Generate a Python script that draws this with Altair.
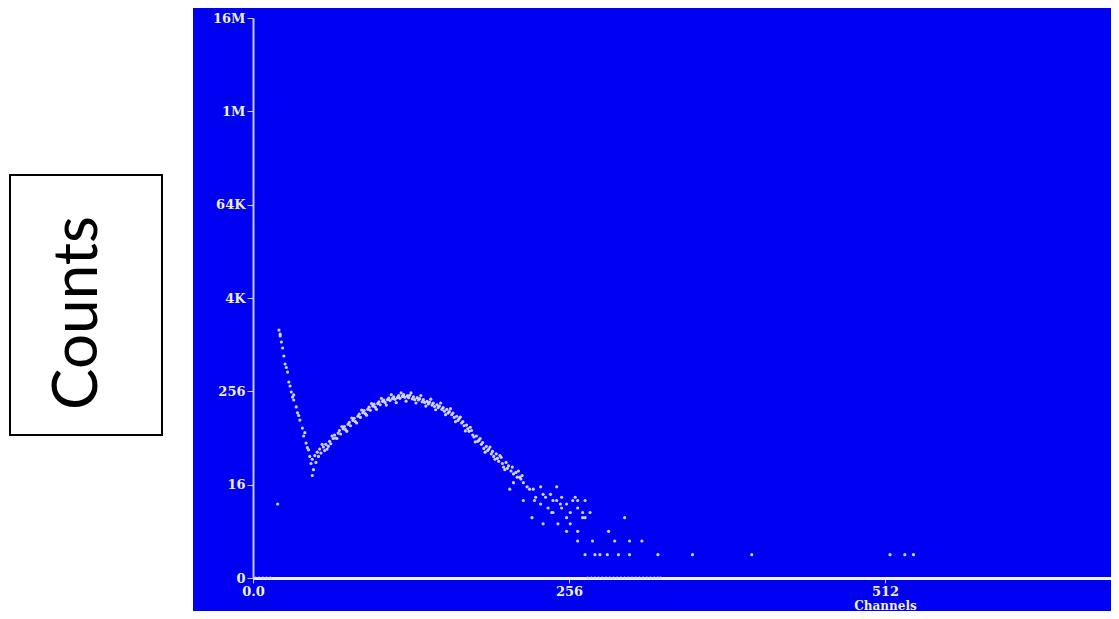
import altair as alt
import pandas as pd

# ---------------- data ----------------
# steep falling part at low channels
fall_ch = [20, 21, 22, 22, 23, 24, 25, 26, 27, 28, 29, 30, 31, 32, 33, 33, 35, 36, 37, 38, 40, 41, 42, 43, 44, 45, 46, 47, 48, 49]
fall_ct = [9, 1580, 1325, 1400, 1109, 927, 732, 577, 520, 454, 338, 300, 251, 216, 198, 230, 161, 135, 125, 109, 86, 68, 75, 55, 48, 45, 37, 30, 21, 25]

# broad hump
hump_ch = [48, 50, 51, 52, 53, 54, 55, 57, 58, 59, 61, 62, 63, 65, 66, 67, 69, 70, 71, 73, 74, 75,
           77, 78, 79, 81, 82, 83, 85, 86, 87, 89, 90, 91, 93, 94, 95, 97, 98, 99, 101, 102, 103,
           105, 106, 107, 109, 110, 111, 113, 114, 115, 117, 118, 119, 121, 122, 123, 125, 126, 127,
           129, 130, 131, 133, 134, 135, 137, 138, 139, 141, 142, 143, 145, 146, 147, 149, 150, 151,
           153, 154, 155, 157, 158, 159, 161, 162, 163, 165, 166, 167, 169, 170, 171, 173, 174, 175,
           177, 178, 179, 181, 182, 183, 185, 186, 187, 189, 190, 191, 193, 194, 195, 197, 198, 199,
           201, 202, 203, 205, 206, 207, 209, 210, 211, 213, 214, 215, 217, 218, 219]
hump_ct = [34, 38, 31, 42, 37, 46, 41, 49, 44, 53, 50, 58, 54, 63, 70, 64, 74, 80, 72, 84, 90, 82,
           96, 102, 92, 108, 115, 104, 122, 130, 118, 136, 145, 132, 150, 160, 146, 165, 175, 160, 178, 188, 172,
           190, 198, 184, 200, 210, 195, 206, 218, 202, 212, 225, 208, 220, 232, 214, 224, 212, 228,
           205, 218, 200, 212, 198, 206, 188, 200, 184, 190, 176, 185, 170, 180, 163, 172, 158, 165,
           150, 158, 142, 150, 134, 140, 128, 134, 118, 122, 108, 114, 100, 104, 92, 94, 84, 78,
           80, 70, 66, 68, 58, 60, 53, 56, 47, 50, 44, 46, 40, 43, 37, 40, 35, 32,
           36, 30, 27, 31, 26, 28, 24, 27, 22, 23, 20, 24, 19, 21, 17]

# outer edge of the hump band (the scatter is a few pixels thick)
edge_ch = [56, 60, 64, 68, 72, 76, 80, 84, 88, 92, 96, 100, 104, 108, 112, 116, 120, 124, 128, 132,
           136, 140, 144, 148, 152, 156, 160, 164, 168, 172, 176, 180, 184, 188, 192, 196, 200, 204]
edge_ct = [53, 46, 68, 63, 90, 78, 116, 100, 147, 126, 178, 150, 208, 170, 232, 183, 244, 191, 244, 181,
           226, 165, 203, 148, 181, 128, 153, 104, 119, 79, 88, 57, 63, 42, 49, 34, 38, 25]

# scattered tail
tail_ch = [208, 211, 216, 219, 222, 224, 226, 227, 228, 229, 233, 233, 235, 235, 237, 239, 241, 242, 243, 243,
           246, 246, 247, 249, 250, 250, 254, 254, 254, 257, 257, 259, 261, 263, 263, 263, 263, 267, 267,
           269, 269, 273, 275, 288, 293, 301, 305, 315]
tail_ct = [14, 17, 20, 10, 15, 14, 6, 14, 10, 11, 9, 15, 12, 5, 11, 8, 12, 7, 10, 7,
           15, 10, 5, 9, 11, 8, 9, 6, 4, 7, 5, 10, 11, 10, 8, 4, 3, 7, 6,
           6, 10, 7, 3, 4, 3, 6, 3, 3]

# isolated counts of 2
two_ch = [269, 277, 281, 287, 296, 305, 328, 356, 404, 516, 528, 535]
two_ct = [2, 2, 2, 2, 2, 2, 2, 2, 2, 2, 2, 2]

# counts of 1 lying on the axis
one_ch = [2, 5, 8, 11, 14, 271, 274, 277, 280, 283, 286, 289, 292, 295, 298, 301, 304, 307, 310,
          313, 316, 319, 322, 325, 328, 330]
one_ct = [1] * len(one_ch)

y_tick_values = [1, 16, 256, 4096, 65536, 1048576, 16777216]
y_tick_labels = ["0", "16", "256", "4K", "64K", "1M", "16M"]
x_tick_values = [0, 256, 512]
x_tick_labels = ["0.0", "256", "512"]

df = pd.DataFrame({
    "channel": fall_ch + hump_ch + edge_ch + tail_ch + two_ch + one_ch,
    "counts": fall_ct + hump_ct + edge_ct + tail_ct + two_ct + one_ct,
})

def label_expr(vals, labels):
    return "".join(f"datum.value == {v} ? '{l}' : " for v, l in zip(vals, labels)) + "''"

BLUE = "#0000f2"
LABEL = "#eeeec4"
AXIS = "#c8c8c8"

x_enc = alt.X(
    "channel:Q",
    scale=alt.Scale(domain=[0, 695], nice=False, zero=False),
    axis=alt.Axis(
        values=x_tick_values, labelExpr=label_expr(x_tick_values, x_tick_labels),
        title="Channels", titleX=632, titleY=31, titleBaseline="alphabetic",
        titleFont="DejaVu Serif", titleFontWeight="bold", titleFontSize=12, titleColor=LABEL,
        grid=False, domainColor="#f4f4f4", domainWidth=3, tickColor=AXIS, tickSize=5,
        labelColor=LABEL, labelFont="DejaVu Serif", labelFontWeight="bold", labelFontSize=13,
        labelPadding=2, labelFlush=False, zindex=0,
    ),
)
y_enc = alt.Y(
    "counts:Q",
    scale=alt.Scale(type="log", base=16, domain=[1, 16777216], nice=False),
    axis=alt.Axis(
        values=y_tick_values, labelExpr=label_expr(y_tick_values, y_tick_labels),
        title=None, grid=False, domainColor=AXIS, domainWidth=2, tickColor=AXIS, tickSize=6,
        labelColor=LABEL, labelFont="DejaVu Serif", labelFontWeight="bold", labelFontSize=13,
        labelPadding=2, labelFlush=False, zindex=0,
    ),
)

points = alt.Chart(df).mark_circle(size=10, color="#dcdcff", opacity=0.95).encode(x=x_enc, y=y_enc)

one = pd.DataFrame({"k": [0]})
white_panel = alt.Chart(one).mark_rect(fill="white", strokeWidth=0).encode(
    x=alt.value(-250), x2=alt.value(-60), y=alt.value(-20), y2=alt.value(620))
box = alt.Chart(one).mark_rect(fill="white", stroke="black", strokeWidth=2).encode(
    x=alt.value(-243), x2=alt.value(-91), y=alt.value(157), y2=alt.value(417))
label = alt.Chart(one).mark_text(text="Counts", font="Lato", fontSize=62, angle=270,
                                 align="center", baseline="alphabetic", color="black").encode(
    x=alt.value(-156), y=alt.value(295))

chart = alt.layer(white_panel, box, label, points).properties(
    width=858, height=560,
    padding={"left": 245, "right": 0, "top": 10, "bottom": 33},
    autosize=alt.AutoSizeParams(type="none"),
    background=BLUE,
).configure_view(strokeWidth=0)

chart.save("out.html", embed_options={"renderer": "svg", "actions": False})
